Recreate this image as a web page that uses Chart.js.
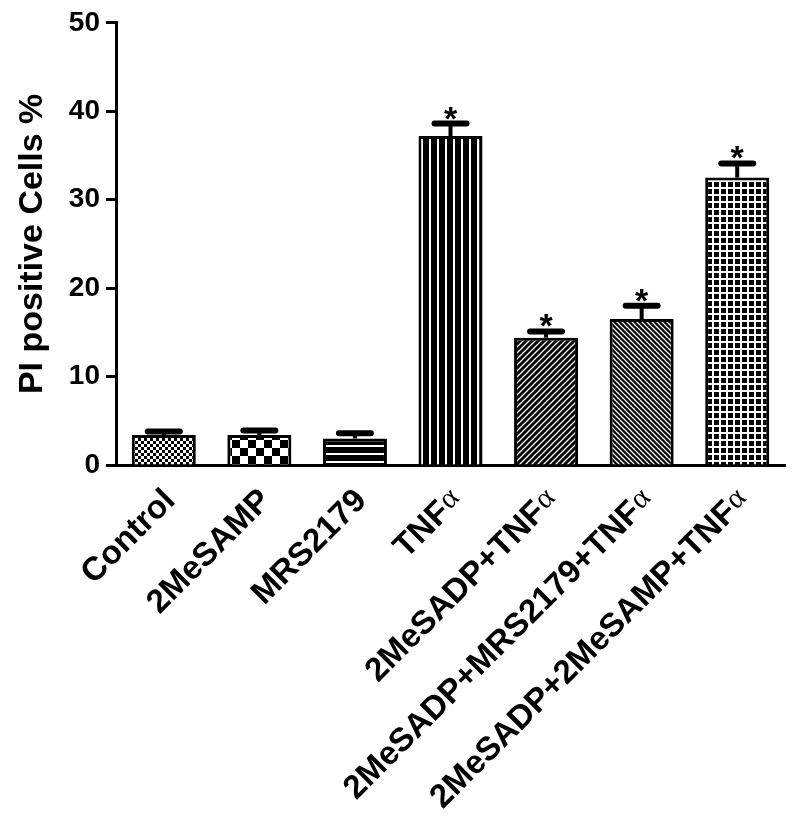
<!DOCTYPE html>
<html>
<head>
<meta charset="utf-8">
<script src="https://cdn.jsdelivr.net/npm/chart.js@4.4.0/dist/chart.umd.min.js"></script>
<style>
  html, body { margin: 0; padding: 0; background: #fff; }
  #wrap { width: 800px; height: 831px; }
</style>
</head>
<body>
<div id="wrap"><canvas id="piChart"></canvas></div>
<script>
const groups = ['Control', '2MeSAMP', 'MRS2179', 'TNF\u03b1', '2MeSADP+TNF\u03b1', '2MeSADP+MRS2179+TNF\u03b1', '2MeSADP+2MeSAMP+TNF\u03b1'];
const piMean = [3.4, 3.4, 3.0, 37.2, 14.4, 16.5, 32.5];
const piSem = [0.4, 0.5, 0.6, 1.4, 0.7, 1.5, 1.6];
const starred = [false, false, false, true, true, true, true];
const yTicks = [0, 10, 20, 30, 40, 50];

const SANS = '"Liberation Sans", Arial, sans-serif';

// hatch fills, one per bar
function tile(size, draw) {
    const c = document.createElement('canvas');
    c.width = size; c.height = size;
    const g = c.getContext('2d');
    draw(g, size);
    return g.createPattern(c, 'repeat');
}
function checker(cell) {
    return tile(cell * 2, function (g, s) {
        g.fillStyle = '#fff'; g.fillRect(0, 0, s, s);
        g.fillStyle = '#000';
        g.fillRect(0, 0, cell, cell);
        g.fillRect(cell, cell, cell, cell);
    });
}
function diag(s, up) {
    return tile(s, function (g) {
        g.fillStyle = '#000'; g.fillRect(0, 0, s, s);
        g.strokeStyle = '#fff'; g.lineWidth = 1.3;
        g.beginPath();
        if (up) {
            g.moveTo(-1, 1); g.lineTo(1, -1);
            g.moveTo(0, s); g.lineTo(s, 0);
            g.moveTo(s - 1, s + 1); g.lineTo(s + 1, s - 1);
        } else {
            g.moveTo(-1, s - 1); g.lineTo(1, s + 1);
            g.moveTo(0, 0); g.lineTo(s, s);
            g.moveTo(s - 1, -1); g.lineTo(s + 1, 1);
        }
        g.stroke();
    });
}
const fills = [
    checker(3),
    checker(8),
    tile(8, function (g, s) {
        g.fillStyle = '#000'; g.fillRect(0, 0, s, s);
        g.fillStyle = '#fff'; g.fillRect(0, 5, s, 2);
    }),
    tile(8, function (g, s) {
        g.fillStyle = '#000'; g.fillRect(0, 0, s, s);
        g.fillStyle = '#fff'; g.fillRect(5, 0, 2, s);
    }),
    diag(6, true),
    diag(5, false),
    tile(7, function (g, s) {
        g.fillStyle = '#000'; g.fillRect(0, 0, s, s);
        g.fillStyle = '#fff';
        g.fillRect(0, 5, s, 2);
        g.fillRect(5, 0, 2, s);
    })
];

const whiteBg = {
    id: 'whiteBg',
    beforeDraw(chart) {
        const c = chart.ctx;
        c.save();
        c.fillStyle = '#fff';
        c.fillRect(0, 0, chart.width, chart.height);
        c.restore();
    }
};

// SEM whiskers (upper only) and significance stars
const errorBars = {
    id: 'errorBars',
    afterDatasetsDraw(chart) {
        const c = chart.ctx;
        const y = chart.scales.y;
        const bars = chart.getDatasetMeta(0).data;
        c.save();
        c.strokeStyle = '#000';
        c.fillStyle = '#000';
        bars.forEach(function (bar, i) {
            const yMean = y.getPixelForValue(piMean[i]);
            const yTop = y.getPixelForValue(piMean[i] + piSem[i]);
            c.lineWidth = 4;
            c.beginPath();
            c.moveTo(bar.x, yMean);
            c.lineTo(bar.x, yTop);
            c.stroke();
            c.lineWidth = 6;
            c.lineCap = 'round';
            c.beginPath();
            c.moveTo(bar.x - 16, yTop);
            c.lineTo(bar.x + 16, yTop);
            c.stroke();
            c.lineCap = 'butt';
            if (starred[i]) {
                c.font = 'bold 34px ' + SANS;
                c.textAlign = 'center';
                c.textBaseline = 'alphabetic';
                c.fillText('*', bar.x, yTop + 6);
            }
        });
        c.restore();
    }
};

// category names at 45deg; the trailing alpha is set in a lighter serif face
const slantLabels = {
    id: 'slantLabels',
    afterDraw(chart) {
        const c = chart.ctx;
        const xs = chart.scales.x;
        c.save();
        c.fillStyle = '#000';
        groups.forEach(function (name, i) {
            const px = xs.getPixelForValue(i);
            c.save();
            c.translate(px + 13, xs.top + 37);
            c.rotate(-Math.PI / 4);
            c.textAlign = 'right';
            c.textBaseline = 'alphabetic';
            let shift = 0;
            let text = name;
            if (text.endsWith('\u03b1')) {
                c.font = '30px "Liberation Serif", "DejaVu Serif", serif';
                c.fillText('\u03b1', 0, -4);
                shift = c.measureText('\u03b1').width + 1;
                text = text.slice(0, -1);
            }
            c.font = 'bold 33px ' + SANS;
            c.fillText(text, -shift, 0);
            c.restore();
        });
        c.restore();
    }
};

const ctx = document.getElementById('piChart').getContext('2d');
const piChart = new Chart(ctx, {
    type: 'bar',
    data: {
        labels: groups,
        datasets: [{
            label: 'PI positive Cells %',
            data: piMean,
            backgroundColor: fills,
            borderColor: '#000',
            borderWidth: 3,
            borderSkipped: 'bottom',
            barPercentage: 0.67,
            categoryPercentage: 1.0
        }]
    },
    options: {
        responsive: true,
        maintainAspectRatio: false,
        animation: false,
        layout: { padding: { top: 22, right: 15, left: 0, bottom: 0 } },
        plugins: {
            legend: { display: false },
            tooltip: { enabled: false }
        },
        scales: {
            x: {
                grid: { display: false },
                border: { display: true, color: '#000', width: 3 },
                ticks: { display: false },
                afterFit: function (scale) { scale.height = 366; }
            },
            y: {
                min: 0,
                max: 50,
                afterBuildTicks: function (scale) {
                    scale.ticks = yTicks.map(v => ({ value: v }));
                },
                grid: {
                    drawOnChartArea: false,
                    drawTicks: true,
                    tickLength: 10,
                    tickWidth: 3,
                    tickColor: '#000'
                },
                border: { display: true, color: '#000', width: 3 },
                ticks: {
                    color: '#000',
                    padding: 6,
                    font: { family: SANS, size: 28, weight: 'bold' }
                },
                title: {
                    display: true,
                    text: 'PI positive Cells %',
                    color: '#000',
                    padding: { top: 12, bottom: 0 },
                    font: { family: SANS, size: 34, weight: 'bold' }
                },
                afterFit: function (scale) { scale.width = 116; }
            }
        }
    },
    plugins: [whiteBg, errorBars, slantLabels]
});
</script>
</body>
</html>
